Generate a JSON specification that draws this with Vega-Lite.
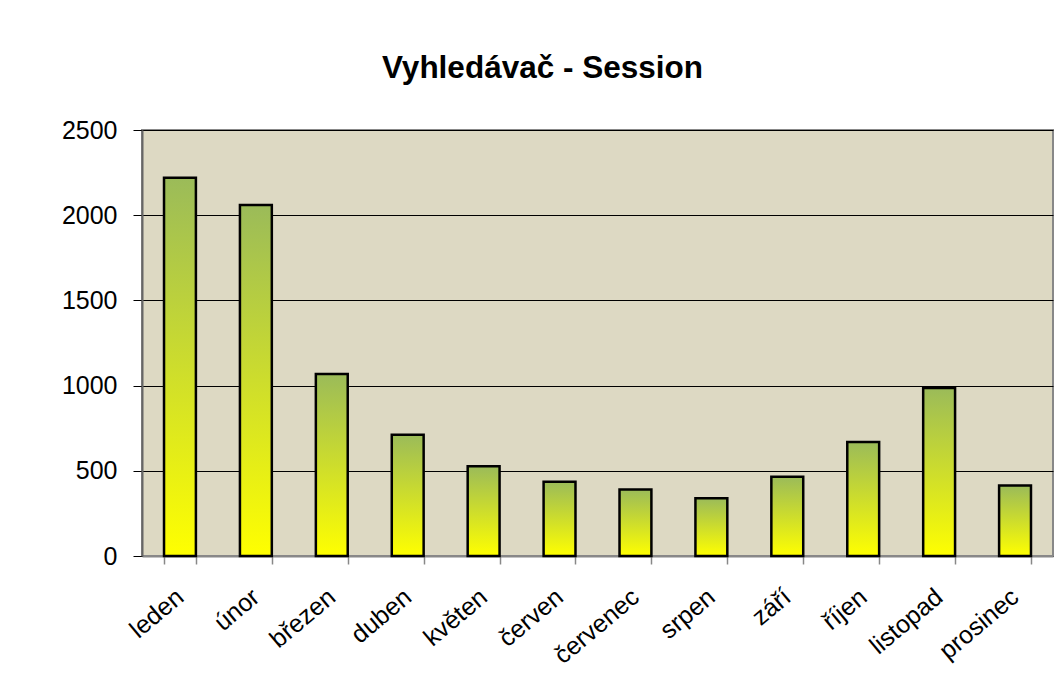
{
  "$schema": "https://vega.github.io/schema/vega-lite/v6.json",
  "width": 911,
  "height": 426,
  "autosize": {"type": "none"},
  "padding": {"left": 142, "top": 130, "right": 3, "bottom": 119},
  "background": "white",
  "title": {
    "text": "Vyhledávač - Session",
    "font": "Liberation Sans",
    "fontSize": 31.5,
    "fontWeight": "bold",
    "color": "#000000",
    "anchor": "middle",
    "frame": "group",
    "dx": -55,
    "offset": 34
  },
  "data": {
    "values": [
      {"mesic": "leden", "session": 2220},
      {"mesic": "únor", "session": 2060},
      {"mesic": "březen", "session": 1068},
      {"mesic": "duben", "session": 712},
      {"mesic": "květen", "session": 527},
      {"mesic": "červen", "session": 436},
      {"mesic": "červenec", "session": 390},
      {"mesic": "srpen", "session": 339},
      {"mesic": "září", "session": 465},
      {"mesic": "říjen", "session": 669},
      {"mesic": "listopad", "session": 986},
      {"mesic": "prosinec", "session": 413}
    ]
  },
  "mark": {
    "type": "bar",
    "stroke": "#000000",
    "strokeWidth": 2.5,
    "fill": {
      "gradient": "linear",
      "x1": 0, "y1": 0, "x2": 0, "y2": 1,
      "stops": [
        {"offset": 0, "color": "#9BBB59"},
        {"offset": 1, "color": "#FFFF00"}
      ]
    }
  },
  "encoding": {
    "x": {
      "field": "mesic",
      "type": "nominal",
      "sort": null,
      "scale": {"paddingInner": 0.58, "paddingOuter": 0.29},
      "axis": {
        "title": null,
        "grid": false,
        "labelAngle": -40,
        "labelFont": "Liberation Sans",
        "labelFontSize": 25,
        "labelColor": "#000000",
        "labelOffset": -8,
        "tickBand": "extent",
        "tickColor": "#888888",
        "tickSize": 8,
        "tickWidth": 1.5,
        "domainColor": "#888888",
        "domainWidth": 2,
        "labelPadding": 20
      }
    },
    "y": {
      "field": "session",
      "type": "quantitative",
      "scale": {"domain": [0, 2500], "nice": false},
      "axis": {
        "title": null,
        "values": [0, 500, 1000, 1500, 2000, 2500],
        "format": "d",
        "labelFont": "Liberation Sans",
        "labelFontSize": 25,
        "labelColor": "#000000",
        "tickSize": 9,
        "tickColor": "#000000",
        "labelPadding": 16,
        "domainColor": "#666666",
        "domainWidth": 2,
        "grid": true,
        "gridColor": "#000000",
        "gridWidth": 1,
        "gridOpacity": 1
      }
    }
  },
  "config": {
    "view": {"fill": "#DDD9C3", "stroke": "#888888", "strokeWidth": 2}
  }
}
